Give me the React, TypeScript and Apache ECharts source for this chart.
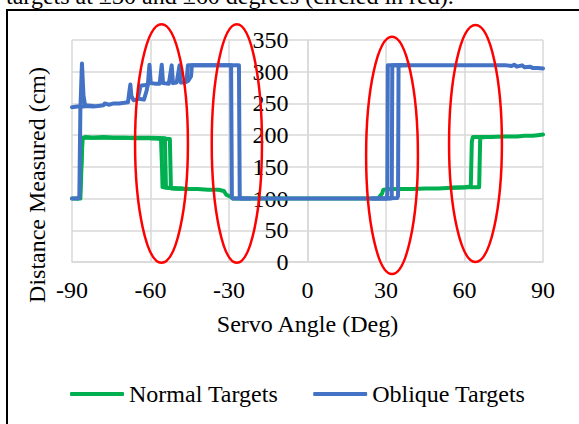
import { useEffect, useRef } from "react";
import * as echarts from "echarts";

const FONT = "'Liberation Serif', 'Times New Roman', serif";
const GREEN = "#00b050";
const BLUE = "#4472c4";
const GRID_GREY = "#d9d9d9";

const seriesNames = ["Normal Targets", "Oblique Targets"];
const angleAxis = { min: -90, max: 90, step: 30, title: "Servo Angle (Deg)" };
const distanceAxis = { min: 0, max: 350, step: 50, title: "Distance Measured (cm)" };
const captionText = "targets at \u00b130 and \u00b160 degrees (circled in red).";

// Normal targets: several overlapping sweeps [angle, distance]
const normalSweepA: [number, number][] = [
  [-90, 100], [-88, 100], [-87, 101], [-86.3, 170], [-86, 194], [-85, 197], [-82, 196],
  [-78, 197], [-74, 196], [-70, 196], [-66, 195], [-62, 195], [-58, 195], [-56, 194],
  [-55.6, 150], [-55.4, 118], [-54, 117], [-50, 116], [-46, 115], [-42, 115], [-38, 114],
  [-34, 114], [-32, 112], [-31, 106], [-29.5, 103], [-28.5, 100], [-20, 100], [-10, 100],
  [0, 100], [10, 100], [20, 100], [27, 100], [28.5, 108], [29, 114], [32, 115], [36, 115],
  [40, 115], [45, 116], [50, 116], [55, 117], [60, 118], [62.4, 119], [62.8, 190],
  [63.2, 197], [66, 197], [70, 197], [75, 198], [80, 198], [83, 199], [86, 199], [88, 200],
  [90, 201],
];
const normalSweepB: [number, number][] = [
  [-88, 100], [-86.8, 100], [-86, 196], [-80, 196], [-70, 196], [-60, 196], [-54.5, 195],
  [-54.1, 118], [-52, 116], [-48, 116],
];
const normalSweepC: [number, number][] = [
  [-60, 195], [-52.6, 194], [-52.2, 117], [-50, 116], [-45, 115],
];
const normalSweepD: [number, number][] = [
  [55, 117], [62, 118], [65.6, 118], [66, 196], [68, 197],
];

// Oblique targets: several overlapping sweeps [angle, distance]
const obliqueSweepA: [number, number][] = [
  [-90, 100], [-88, 100], [-87.2, 101], [-86.8, 240], [-86.2, 313], [-85.6, 262],
  [-85, 247], [-82, 246],
];
const obliqueSweepB: [number, number][] = [
  [-90, 244], [-88, 245], [-86, 245], [-84, 246], [-82, 245], [-80, 246], [-78, 247],
  [-77.5, 250], [-76, 248], [-74, 250], [-72, 250], [-70, 251], [-68.6, 252], [-68.1, 268],
  [-67.7, 280], [-67.3, 262], [-66.5, 255], [-65, 256], [-64.3, 268], [-63.8, 278],
  [-62, 279], [-61, 280], [-60.4, 311], [-59.9, 282], [-58, 281], [-56.5, 281],
  [-55.7, 311], [-55.2, 282], [-53, 281], [-51.9, 310], [-51.4, 282], [-50, 283],
  [-48.9, 310], [-48.4, 283], [-47, 283], [-46.2, 285], [-45.7, 310], [-44, 310],
  [-40, 310], [-36, 310], [-32, 310], [-29.2, 310], [-28.9, 104], [-28.5, 100], [-24, 100],
  [-15, 100], [-5, 100], [5, 100], [15, 100], [25, 100], [30.2, 100], [30.5, 108],
  [30.7, 310], [36, 310], [45, 310], [55, 310], [65, 310], [72, 310], [76, 310], [78, 309],
  [79, 311], [80, 308], [82, 310], [83, 307], [85, 308], [86, 306], [88, 306], [90, 305],
];
const obliqueSweepC: [number, number][] = [
  [-64, 257], [-62.5, 256], [-61.5, 270], [-61, 280],
];
const obliqueSweepD: [number, number][] = [
  [-47, 283], [-45.5, 286], [-44.5, 293], [-44.2, 310], [-40, 310], [-30, 310],
  [-26.2, 310], [-25.9, 104], [-25.5, 100], [-22, 100],
];
const obliqueSweepE: [number, number][] = [
  [25, 100], [31.8, 100], [32.2, 104], [32.4, 310], [36, 310],
];
const obliqueSweepF: [number, number][] = [
  [28, 100], [34.3, 101], [34.6, 104], [34.8, 310], [38, 310],
];

// Red rings around the transitions: centre and half-extent in data units
const transitionRings = [
  { angle: -55.8, distance: 186.7, halfAngle: 10.1, halfDistance: 188 },
  { angle: -27, distance: 186.7, halfAngle: 9.6, halfDistance: 188 },
  { angle: 32.3, distance: 168, halfAngle: 9.9, halfDistance: 187 },
  { angle: 64.2, distance: 186.8, halfAngle: 10.1, halfDistance: 186.8 },
];

function lineSeries(name: string, color: string, data: [number, number][]) {
  return {
    type: "line" as const,
    name,
    data,
    symbol: "none",
    showSymbol: false,
    color,
    itemStyle: { color },
    lineStyle: { color, width: 4, cap: "round", join: "round" },
    emphasis: { disabled: true },
  };
}

export default function App() {
  const ref = useRef<HTMLDivElement>(null);

  useEffect(() => {
    if (!ref.current) return;
    const chart = echarts.init(ref.current, undefined, { renderer: "svg" });

    chart.setOption({
      animation: false,
      backgroundColor: "#fff",
      textStyle: { fontFamily: FONT },
      grid: { left: 72, right: 36, top: 40, bottom: 162, containLabel: false },
      legend: {
        data: seriesNames.map((name) => ({ name, icon: "roundRect" })),
        left: 65,
        top: 377,
        itemWidth: 54,
        itemHeight: 4,
        itemGap: 35,
        textStyle: { fontFamily: FONT, fontSize: 24, color: "#000" },
      },
      xAxis: {
        type: "value",
        min: angleAxis.min,
        max: angleAxis.max,
        interval: angleAxis.step,
        name: angleAxis.title,
        nameLocation: "middle",
        nameGap: 50,
        nameTextStyle: { fontFamily: FONT, fontSize: 24, color: "#000" },
        axisLine: { show: true, onZero: false, lineStyle: { color: GRID_GREY, width: 1.5 } },
        axisTick: { show: false },
        axisLabel: { fontFamily: FONT, fontSize: 24, color: "#000", margin: 16 },
        splitLine: { show: true, lineStyle: { color: GRID_GREY, width: 1.5 } },
      },
      yAxis: {
        type: "value",
        position: "left",
        // vertical axis crosses the horizontal one at 0 degrees (centre of the grid)
        offset: -235.5,
        min: distanceAxis.min,
        max: distanceAxis.max,
        interval: distanceAxis.step,
        axisLine: { show: true, onZero: false, lineStyle: { color: GRID_GREY, width: 1.5 } },
        axisTick: { show: false },
        axisLabel: { fontFamily: FONT, fontSize: 24, color: "#000", margin: 19 },
        splitLine: { show: true, lineStyle: { color: GRID_GREY, width: 1.5 } },
      },
      series: [
        lineSeries(seriesNames[0], GREEN, normalSweepA),
        lineSeries(seriesNames[0], GREEN, normalSweepB),
        lineSeries(seriesNames[0], GREEN, normalSweepC),
        lineSeries(seriesNames[0], GREEN, normalSweepD),
        lineSeries(seriesNames[1], BLUE, obliqueSweepB),
        lineSeries(seriesNames[1], BLUE, obliqueSweepA),
        lineSeries(seriesNames[1], BLUE, obliqueSweepC),
        lineSeries(seriesNames[1], BLUE, obliqueSweepD),
        lineSeries(seriesNames[1], BLUE, obliqueSweepE),
        lineSeries(seriesNames[1], BLUE, obliqueSweepF),
      ],
    });

    const rings = transitionRings.map((r) => {
      const c = chart.convertToPixel({ gridIndex: 0 }, [r.angle, r.distance]) as number[];
      const e = chart.convertToPixel({ gridIndex: 0 }, [
        r.angle + r.halfAngle,
        r.distance + r.halfDistance,
      ]) as number[];
      return {
        type: "ellipse",
        z: 100,
        shape: { cx: c[0], cy: c[1], rx: e[0] - c[0], ry: c[1] - e[1] },
        style: { fill: "none", stroke: "#ff0000", lineWidth: 2.5 },
        silent: true,
      };
    });

    chart.setOption({
      graphic: [
        {
          type: "text",
          x: 6,
          y: -4,
          style: {
            text: captionText,
            font: `24px ${FONT}`,
            fill: "#000",
            align: "left",
            verticalAlign: "middle",
          },
        },
        {
          type: "line",
          shape: { x1: 6, y1: 10, x2: 579, y2: 10 },
          style: { stroke: "#000", lineWidth: 2 },
        },
        {
          type: "line",
          shape: { x1: 7, y1: 9, x2: 7, y2: 424 },
          style: { stroke: "#000", lineWidth: 2 },
        },
        {
          type: "text",
          x: 37,
          y: 185,
          rotation: Math.PI / 2,
          style: {
            text: distanceAxis.title,
            font: `24px ${FONT}`,
            fill: "#000",
            align: "center",
            verticalAlign: "middle",
          },
        },
        ...rings,
      ],
    });

    return () => chart.dispose();
  }, []);

  return (
    <div
      ref={ref}
      style={{ position: "fixed", left: 0, top: 0, width: 579, height: 424 }}
    />
  );
}
